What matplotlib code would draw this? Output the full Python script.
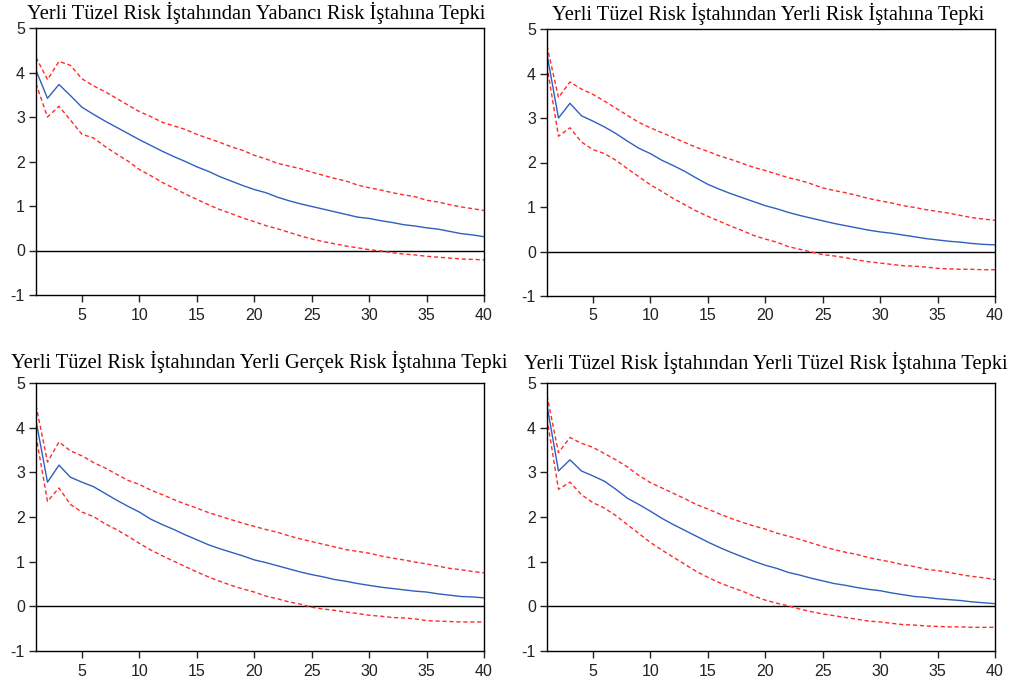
import matplotlib
matplotlib.use('Agg')
import matplotlib.pyplot as plt
import numpy as np

plt.rcParams['axes.unicode_minus'] = False

periods = list(range(1, 41))

titles = [
    'Yerli Tüzel Risk İştahından Yabancı Risk İştahına Tepki',
    'Yerli Tüzel Risk İştahından Yerli Risk İştahına Tepki',
    'Yerli Tüzel Risk İştahından Yerli Gerçek Risk İştahına Tepki',
    'Yerli Tüzel Risk İştahından Yerli Tüzel Risk İştahına Tepki',
]

# panel 1: yabanci
resp_1 = [4.05, 3.42, 3.73, 3.48, 3.22, 3.06, 2.91, 2.77, 2.63, 2.49, 2.36, 2.23, 2.11, 2.00, 1.88, 1.78, 1.66, 1.56, 1.46, 1.37,
          1.30, 1.20, 1.12, 1.05, 0.99, 0.93, 0.87, 0.81, 0.75, 0.72, 0.67, 0.63, 0.58, 0.55, 0.51, 0.48, 0.43, 0.38, 0.35, 0.31]
upper_1 = [4.34, 3.84, 4.25, 4.16, 3.86, 3.70, 3.57, 3.42, 3.27, 3.12, 3.01, 2.88, 2.80, 2.72, 2.61, 2.52, 2.43, 2.33, 2.25, 2.14,
           2.06, 1.96, 1.90, 1.84, 1.76, 1.69, 1.62, 1.56, 1.47, 1.41, 1.36, 1.30, 1.25, 1.21, 1.13, 1.09, 1.03, 0.98, 0.94, 0.90]
lower_1 = [3.75, 3.00, 3.24, 2.93, 2.61, 2.53, 2.34, 2.17, 2.01, 1.82, 1.68, 1.53, 1.40, 1.27, 1.15, 1.03, 0.92, 0.83, 0.73, 0.65,
           0.56, 0.49, 0.41, 0.33, 0.26, 0.20, 0.15, 0.10, 0.06, 0.02, -0.01, -0.05, -0.08, -0.10, -0.13, -0.15, -0.17, -0.19, -0.20, -0.21]

# panel 2: yerli
resp_2 = [4.43, 3.00, 3.33, 3.05, 2.93, 2.80, 2.65, 2.48, 2.32, 2.20, 2.05, 1.93, 1.80, 1.65, 1.51, 1.40, 1.30, 1.21, 1.12, 1.03,
          0.96, 0.88, 0.81, 0.75, 0.69, 0.63, 0.58, 0.53, 0.48, 0.44, 0.41, 0.37, 0.33, 0.29, 0.26, 0.23, 0.21, 0.18, 0.16, 0.15]
upper_2 = [4.62, 3.46, 3.81, 3.65, 3.53, 3.38, 3.22, 3.06, 2.90, 2.78, 2.67, 2.56, 2.45, 2.34, 2.25, 2.15, 2.07, 1.98, 1.89, 1.82,
           1.74, 1.66, 1.60, 1.52, 1.43, 1.37, 1.32, 1.26, 1.19, 1.14, 1.09, 1.03, 0.99, 0.94, 0.90, 0.86, 0.81, 0.76, 0.73, 0.70]
lower_2 = [4.17, 2.59, 2.78, 2.46, 2.29, 2.20, 2.05, 1.86, 1.68, 1.50, 1.35, 1.19, 1.05, 0.91, 0.79, 0.68, 0.57, 0.47, 0.36, 0.28,
           0.21, 0.11, 0.05, -0.01, -0.07, -0.10, -0.14, -0.19, -0.23, -0.26, -0.29, -0.32, -0.33, -0.35, -0.38, -0.39, -0.40, -0.40, -0.41, -0.41]

# panel 3: yerli gercek
resp_3 = [4.16, 2.78, 3.16, 2.89, 2.78, 2.68, 2.53, 2.38, 2.24, 2.11, 1.95, 1.83, 1.72, 1.60, 1.49, 1.38, 1.29, 1.21, 1.13, 1.04,
          0.98, 0.91, 0.84, 0.77, 0.71, 0.66, 0.60, 0.56, 0.51, 0.47, 0.43, 0.40, 0.37, 0.34, 0.32, 0.28, 0.25, 0.22, 0.21, 0.19]
upper_3 = [4.50, 3.23, 3.68, 3.48, 3.37, 3.22, 3.10, 2.96, 2.82, 2.73, 2.60, 2.50, 2.39, 2.29, 2.20, 2.10, 2.02, 1.94, 1.86, 1.79,
           1.72, 1.66, 1.58, 1.51, 1.45, 1.39, 1.33, 1.27, 1.23, 1.19, 1.13, 1.08, 1.04, 0.99, 0.95, 0.90, 0.85, 0.82, 0.78, 0.75]
lower_3 = [3.82, 2.35, 2.65, 2.28, 2.11, 2.01, 1.85, 1.72, 1.57, 1.41, 1.26, 1.13, 1.01, 0.89, 0.77, 0.66, 0.56, 0.47, 0.39, 0.32,
           0.23, 0.17, 0.10, 0.05, -0.02, -0.06, -0.09, -0.13, -0.16, -0.20, -0.22, -0.25, -0.26, -0.28, -0.32, -0.33, -0.34, -0.35, -0.35, -0.35]

# panel 4: yerli tuzel
resp_4 = [4.50, 3.03, 3.28, 3.03, 2.92, 2.80, 2.62, 2.42, 2.28, 2.13, 1.97, 1.83, 1.70, 1.57, 1.44, 1.32, 1.21, 1.11, 1.01, 0.92,
          0.85, 0.76, 0.70, 0.63, 0.57, 0.51, 0.47, 0.42, 0.38, 0.35, 0.30, 0.26, 0.22, 0.20, 0.17, 0.15, 0.13, 0.10, 0.08, 0.06]
upper_4 = [4.72, 3.44, 3.78, 3.65, 3.56, 3.42, 3.28, 3.12, 2.93, 2.77, 2.65, 2.53, 2.41, 2.28, 2.18, 2.07, 1.97, 1.88, 1.80, 1.73,
           1.64, 1.57, 1.50, 1.42, 1.34, 1.27, 1.21, 1.16, 1.09, 1.04, 0.99, 0.93, 0.89, 0.83, 0.80, 0.76, 0.71, 0.67, 0.64, 0.60]
lower_4 = [4.20, 2.62, 2.78, 2.50, 2.32, 2.20, 2.03, 1.83, 1.63, 1.43, 1.26, 1.10, 0.94, 0.78, 0.65, 0.53, 0.43, 0.34, 0.23, 0.14,
           0.07, 0.01, -0.06, -0.12, -0.17, -0.21, -0.25, -0.29, -0.33, -0.35, -0.38, -0.41, -0.42, -0.44, -0.45, -0.46, -0.46, -0.47, -0.47, -0.47]

x_ticks = [5, 10, 15, 20, 25, 30, 35, 40]
y_ticks = [-1, 0, 1, 2, 3, 4, 5]

panels = [(resp_1, upper_1, lower_1), (resp_2, upper_2, lower_2),
          (resp_3, upper_3, lower_3), (resp_4, upper_4, lower_4)]

# axes boxes in pixels (left, top, right, bottom) and title centres
W, H = 1015, 685
boxes = [(36, 28, 484, 295), (547, 29, 995, 296), (36, 383, 484, 651), (547, 383, 995, 651)]
title_pos = [(256, 13), (768, 14), (259, 362), (766, 363)]

fig = plt.figure(figsize=(W / 100, H / 100), dpi=100)

for i, (resp, up, lo) in enumerate(panels):
    l, t, r, b = boxes[i]
    ax = fig.add_axes([l / W, 1 - b / H, (r - l) / W, (b - t) / H])
    ax.axhline(0, color='black', lw=1.0)
    ax.plot(periods, up, color='#ff2a2a', lw=1.0, ls=(0, (3, 2)))
    ax.plot(periods, lo, color='#ff2a2a', lw=1.0, ls=(0, (3, 2)))
    ax.plot(periods, resp, color='#2f5fbf', lw=1.0)
    ax.set_xlim(1, 40)
    ax.set_ylim(-1, 5)
    ax.set_xticks(x_ticks)
    ax.set_yticks(y_ticks)
    ax.tick_params(direction='out', length=5, width=1, labelsize=11.5, colors='#222222')
    ax.tick_params(axis='x', pad=4)
    ax.tick_params(axis='y', pad=3)
    for lab in ax.get_xticklabels() + ax.get_yticklabels():
        lab.set_family('Liberation Sans')
    for s in ax.spines.values():
        s.set_linewidth(1.0)
    tx, ty = title_pos[i]
    fig.text(tx / W, 1 - ty / H, titles[i], ha='center', va='center',
             family='Liberation Serif', fontsize=14.8, color='black')

fig.savefig('out.png', dpi=100)
